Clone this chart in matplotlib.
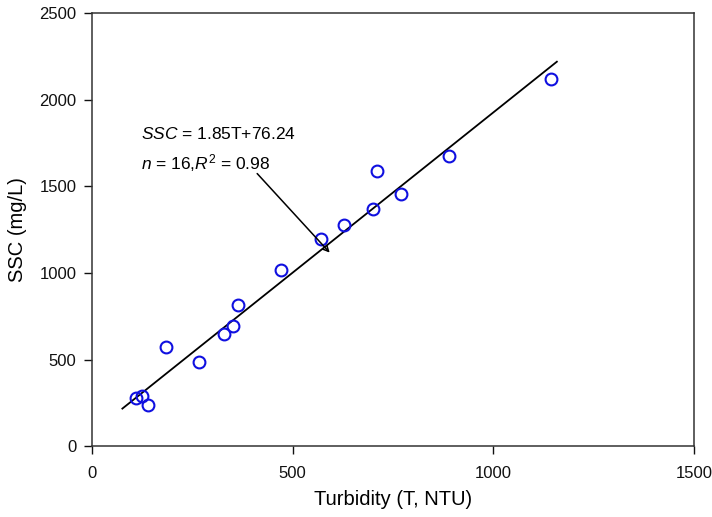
import matplotlib
matplotlib.use('Agg')
import matplotlib.pyplot as plt

plt.rcParams['font.family'] = ['Liberation Sans', 'DejaVu Sans']
plt.rcParams['mathtext.fontset'] = 'custom'
plt.rcParams['mathtext.rm'] = 'Liberation Sans'
plt.rcParams['mathtext.it'] = 'Liberation Sans:italic'

# measured turbidity (NTU) and SSC (mg/L)
turbidity = [109, 125, 141, 184, 266, 330, 352, 364, 471, 571, 628, 700, 710, 771, 889, 1144]
ssc = [279, 289, 237, 572, 483, 647, 695, 812, 1014, 1195, 1276, 1367, 1588, 1455, 1676, 2117]

slope = 1.85
intercept = 76.24
fit_x = [76, 1158]
fit_y = [slope * v + intercept for v in fit_x]

fig = plt.figure(figsize=(7.12, 5.17), dpi=100)
ax = fig.add_axes([0.129, 0.137, 0.846, 0.838])

ax.plot(fit_x, fit_y, color='black', linewidth=1.3)
ax.plot(turbidity, ssc, linestyle='none', marker='o', markersize=8.5,
        markerfacecolor='none', markeredgecolor='#1010e0', markeredgewidth=1.5)

ax.set_xlim(0, 1500)
ax.set_ylim(0, 2500)
ax.set_xticks([0, 500, 1000, 1500])
ax.set_yticks([0, 500, 1000, 1500, 2000, 2500])
ax.tick_params(direction='out', length=6, width=1, labelsize=12,
               top=False, right=False, colors='#111111')
ax.tick_params(axis='x', pad=8)
ax.tick_params(axis='y', pad=5)
for s in ax.spines.values():
    s.set_linewidth(1.1)
    s.set_color('#333333')

ax.set_xlabel('Turbidity (T, NTU)', fontsize=14.5, labelpad=7)
ax.set_ylabel('SSC (mg/L)', fontsize=14.5, labelpad=9)

ax.text(122, 1800, r'$SSC$ = 1.85T+76.24', fontsize=12.5, va='center')
ax.text(122, 1635, r'$n$ = 16,$R^2$ = 0.98', fontsize=12.5, va='center')
ax.annotate('', xy=(597, 1105), xytext=(407, 1585),
            arrowprops=dict(arrowstyle='->', color='black', lw=1.1))

fig.savefig('out.png', dpi=100)
